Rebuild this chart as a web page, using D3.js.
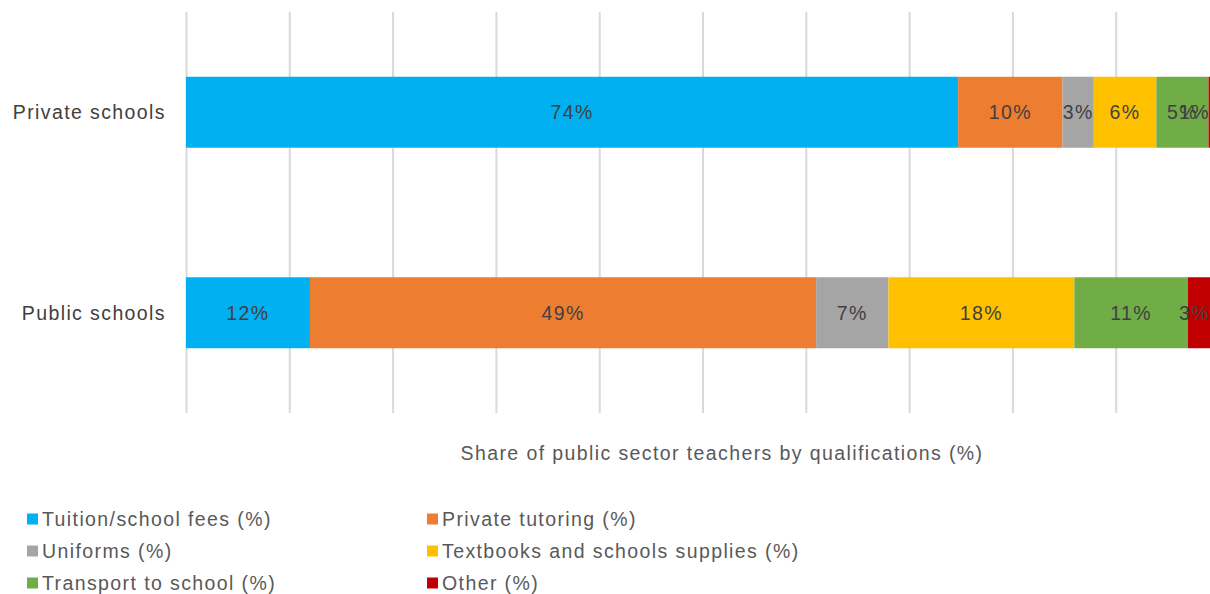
<!DOCTYPE html>
<html>
<head>
<meta charset="utf-8">
<script src="https://cdn.jsdelivr.net/npm/d3@7"></script>
<style>
  html, body { margin: 0; padding: 0; background: #fff; overflow: hidden; }
  svg { display: block; font-family: "Liberation Sans", Arial, sans-serif; letter-spacing: 1.4px; }
</style>
</head>
<body>
<svg id="chart" width="1210" height="594"></svg>
<script>
// School types (top to bottom)
const categories = ["Private schools", "Public schools"];

// Expense categories, in stacking order
const seriesNames = [
  "Tuition/school fees (%)",
  "Private tutoring (%)",
  "Uniforms (%)",
  "Textbooks and schools supplies (%)",
  "Transport to school (%)",
  "Other (%)"
];

// Values per school type (%)
const tuition   = [74, 12];
const tutoring  = [10, 49];
const uniforms  = [3, 7];
const textbooks = [6, 18];
const transport = [5, 11];
const other     = [1, 3];

const xTicks = [0, 0.1, 0.2, 0.3, 0.4, 0.5, 0.6, 0.7, 0.8, 0.9, 1.0];
const axisTitle = "Share of public sector teachers by qualifications (%)";

const colors = ["#00B0F0", "#ED7D31", "#A5A5A5", "#FFC000", "#70AD47", "#C00000"];

const seriesValues = [tuition, tutoring, uniforms, textbooks, transport, other];
const rows = categories.map((c, i) => {
  const r = { category: c };
  seriesNames.forEach((s, k) => { r[s] = seriesValues[k][i]; });
  return r;
});

const svg = d3.select("#chart");
const W = 1210;
const FS = 19.5;
const plot = { left: 186, right: 1219, top: 12, bottom: 413 };

const x = d3.scaleLinear().domain([0, 1]).range([plot.left, plot.right]);
const y = d3.scaleBand().domain(categories).range([plot.top, plot.bottom]).paddingInner(0.646).paddingOuter(0.323);
const color = d3.scaleOrdinal().domain(seriesNames).range(colors);

// 100% stacked layout
const stacked = d3.stack().keys(seriesNames).offset(d3.stackOffsetExpand)(rows);

// Vertical gridlines
svg.append("g")
  .attr("transform", `translate(0,${plot.bottom})`)
  .call(d3.axisBottom(x).tickValues(xTicks).tickSize(-(plot.bottom - plot.top)).tickFormat(""))
  .call(g => g.select(".domain").remove())
  .call(g => g.selectAll(".tick line").attr("stroke", "#D9D9D9").attr("stroke-width", 2));

// Bars
const layers = svg.append("g").selectAll("g")
  .data(stacked)
  .join("g")
  .attr("fill", d => color(d.key));

layers.selectAll("rect")
  .data(d => d)
  .join("rect")
  .attr("x", d => x(d[0]))
  .attr("y", d => y(d.data.category))
  .attr("width", d => x(d[1]) - x(d[0]))
  .attr("height", y.bandwidth());

// Value labels, centred in each segment and kept inside the chart area
const labelGroup = svg.append("g");
stacked.forEach(layer => {
  layer.forEach(d => {
    const v = d.data[layer.key];
    const t = labelGroup.append("text")
      .attr("y", y(d.data.category) + y.bandwidth() / 2)
      .attr("dy", "0.35em")
      .attr("text-anchor", "middle")
      .attr("fill", "#404040")
      .attr("font-size", FS)
      .text(v + "%");
    const w = t.node().getComputedTextLength();
    let cx = (x(d[0]) + x(d[1])) / 2;
    cx = Math.min(cx, W - w / 2);
    t.attr("x", cx);
  });
});

// Category labels
svg.append("g").selectAll("text")
  .data(categories)
  .join("text")
  .attr("x", 166)
  .attr("y", d => y(d) + y.bandwidth() / 2)
  .attr("dy", "0.35em")
  .attr("text-anchor", "end")
  .attr("fill", "#404040")
  .attr("font-size", FS)
  .text(d => d);

// Axis title
svg.append("text")
  .attr("x", 722)
  .attr("y", 453)
  .attr("dy", "0.35em")
  .attr("text-anchor", "middle")
  .attr("fill", "#595959")
  .attr("font-size", FS)
  .text(axisTitle);

// Legend: two columns, three rows
const legend = svg.append("g").selectAll("g")
  .data(seriesNames)
  .join("g")
  .attr("transform", (d, i) => `translate(${i % 2 === 0 ? 27 : 427},${519 + Math.floor(i / 2) * 32})`);

legend.append("rect")
  .attr("x", 0).attr("y", -5.5)
  .attr("width", 11).attr("height", 11)
  .attr("fill", d => color(d));

legend.append("text")
  .attr("x", 15)
  .attr("dy", "0.35em")
  .attr("fill", "#595959")
  .attr("font-size", FS)
  .text(d => d);
</script>
</body>
</html>
